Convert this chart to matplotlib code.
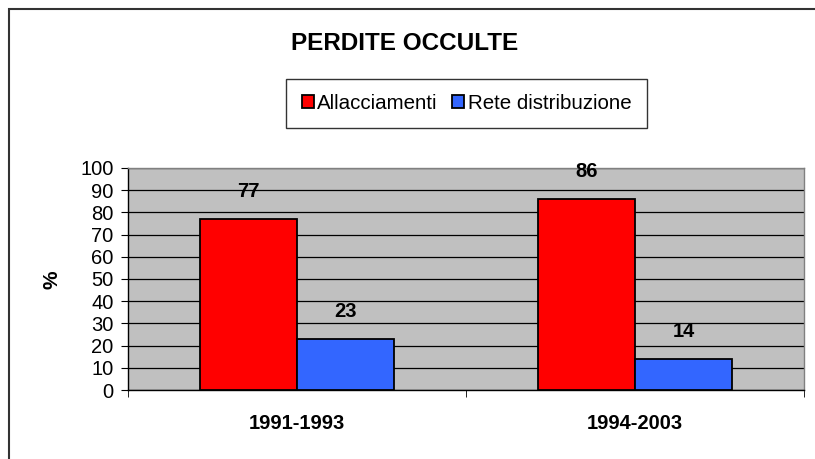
import matplotlib
matplotlib.use("Agg")
import matplotlib.pyplot as plt
from matplotlib.patches import Rectangle
import numpy as np

plt.rcParams['font.family'] = ['Liberation Sans', 'DejaVu Sans']

categories = ["1991-1993", "1994-2003"]
series_names = ["Allacciamenti", "Rete distribuzione"]
allacciamenti = [77, 86]
rete = [23, 14]
yticks = [0, 10, 20, 30, 40, 50, 60, 70, 80, 90, 100]

W, H = 815, 459
fig = plt.figure(figsize=(W/100, H/100), dpi=100)
fig.patch.set_facecolor("white")

# outer chart border (top and left visible)
fig.add_artist(Rectangle((9/W, -0.1), 1.2, 1 - 9/H + 0.1, transform=fig.transFigure,
                         fill=False, edgecolor="#333333", linewidth=1.5))

ax = fig.add_axes([128/W, 1 - 390/H, (804-128)/W, (390-168)/H])
ax.set_facecolor("#C0C0C0")

x = np.arange(len(categories))
bw = 0.287
b1 = ax.bar(x - bw/2, allacciamenti, bw, color="#FF0000", edgecolor="black", linewidth=1.3,
            label=series_names[0], zorder=3)
b2 = ax.bar(x + bw/2, rete, bw, color="#3366FF", edgecolor="black", linewidth=1.3,
            label=series_names[1], zorder=3)

for bars, vals in ((b1, allacciamenti), (b2, rete)):
    for rect, v in zip(bars, vals):
        ax.annotate(str(v), (rect.get_x() + rect.get_width()/2, v), xytext=(0, 19.5),
                    textcoords="offset points", ha="center", va="center",
                    fontsize=14.5, fontweight="bold", zorder=4)

ax.set_xlim(-0.5, 1.5)
ax.set_ylim(0, 100)
ax.set_yticks(yticks)
ax.set_yticklabels([str(t) for t in yticks], fontsize=14.5)
ax.yaxis.grid(True, color="black", linewidth=0.9, zorder=1)
ax.set_axisbelow(True)

ax.set_xticks(x)
ax.set_xticklabels(categories, fontsize=14.5, fontweight="bold")
ax.tick_params(axis="x", length=0, pad=17)
ax.set_xticks([-0.5, 0.5, 1.5], minor=True)
ax.tick_params(axis="x", which="minor", length=5, direction="out", color="black")
ax.tick_params(axis="y", length=5, direction="out", pad=5.5)

for s in ("top", "right"):
    ax.spines[s].set_color("#808080")
    ax.spines[s].set_linewidth(1.0)
for s in ("left", "bottom"):
    ax.spines[s].set_color("black")
    ax.spines[s].set_linewidth(1.0)

ax.set_ylabel("%", fontsize=15, fontweight="bold")
ax.yaxis.set_label_coords(-0.098, 0.495)

fig.text(405/W, 1 - 43/H, "PERDITE OCCULTE", ha="center", va="center",
         fontsize=17.5, fontweight="bold")

leg = fig.legend(handles=[b1, b2], labels=series_names, loc="center",
                 bbox_to_anchor=(466.5/W, 1 - 103.5/H), ncol=2, frameon=True,
                 fancybox=False, shadow=False, fontsize=14.8, handlelength=0.6,
                 handleheight=0.6, handletextpad=0.15, columnspacing=0.7,
                 borderpad=0.75, borderaxespad=0, edgecolor="black")
leg.get_frame().set_linewidth(1.0)

fig.savefig("out.png", dpi=100, facecolor="white")
